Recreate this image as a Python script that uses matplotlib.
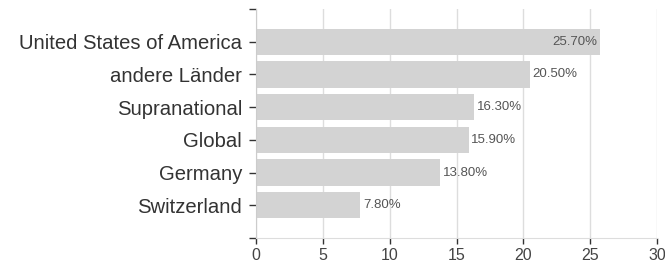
import matplotlib
matplotlib.use("Agg")
import matplotlib.pyplot as plt

categories = ["United States of America", "andere Länder", "Supranational", "Global", "Germany", "Switzerland"]
values = [25.7, 20.5, 16.3, 15.9, 13.8, 7.8]
value_labels = ["25.70%", "20.50%", "16.30%", "15.90%", "13.80%", "7.80%"]
xticks = [0, 5, 10, 15, 20, 25, 30]

plt.rcParams['font.family'] = ['Liberation Sans', 'DejaVu Sans']

fig = plt.figure(figsize=(6.65, 2.7), dpi=100)
ax = fig.add_axes([256/665, 1-238/270, (657-256)/665, (238-9)/270])

pos = list(range(len(categories)))
ax.barh(pos, values, height=0.8, color='#d3d3d3', zorder=2)
ax.set_ylim(len(categories), -1)
ax.set_xlim(0, 30)

for p, v, lab in zip(pos, values, value_labels):
    if v > 24:
        ax.text(v - 0.2, p, lab, ha='right', va='center', fontsize=9.5, color='#555555', zorder=3)
    else:
        ax.text(v + 0.2, p, lab, ha='left', va='center', fontsize=9.5, color='#555555', zorder=3)

ax.set_yticks([-1] + pos + [len(categories)])
ax.set_yticklabels([''] + categories + [''], fontsize=14.6, color='#333333')
ax.set_xticks(xticks)
ax.set_xticklabels([str(t) for t in xticks], fontsize=11.5, color='#444444')
ax.tick_params(axis='y', length=5, width=1, color='#333333', pad=5)
ax.tick_params(axis='x', length=4, width=1, color='#333333', pad=3)

ax.grid(axis='x', color='#dddddd', linewidth=1, zorder=0)
for s in ['top', 'right']:
    ax.spines[s].set_visible(False)
ax.spines['left'].set_color('#cccccc')
ax.spines['bottom'].set_color('#dddddd')

fig.savefig('out.png', dpi=100)
